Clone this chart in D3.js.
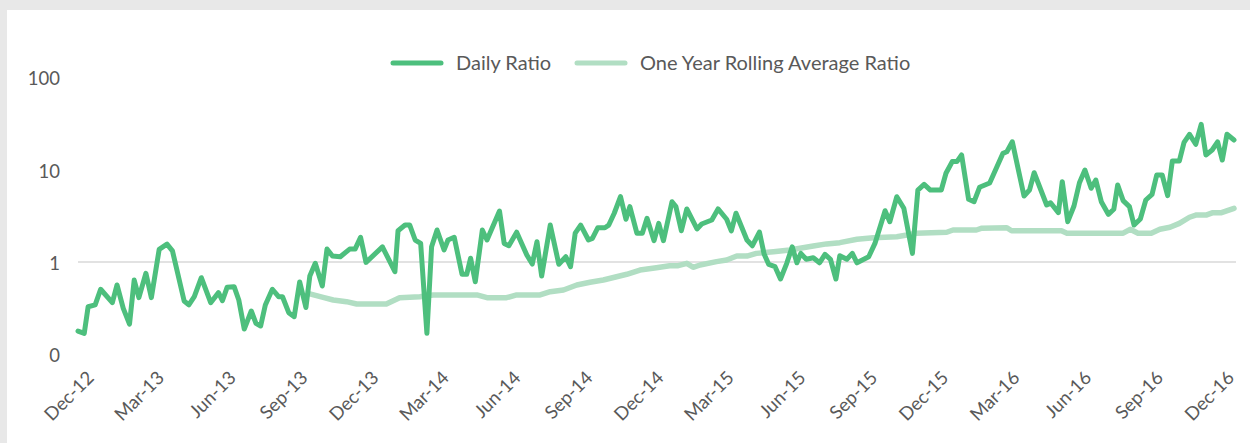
<!DOCTYPE html>
<html>
<head>
<meta charset="utf-8">
<script src="https://cdn.jsdelivr.net/npm/d3@7"></script>
<style>
  body { margin: 0; background: #e8e8e8; }
  svg { display: block; font-family: Lato, "Open Sans", sans-serif; }
  .tick text { fill: #595959; }
</style>
</head>
<body>
<div class="chart"></div>
<script>
var svgWidth = 1250;
var svgHeight = 443;

// series start (first weekly reading)
var startDate = new Date(2012, 10, 15);

// Daily ratio: days after startDate, value
var dailyDays = [0, 8, 13, 22, 29, 44, 50, 58, 66, 72, 78, 87, 94, 104, 114, 121, 136, 142, 149, 158,
  170, 180, 185, 191, 200, 206, 213, 222, 228, 234, 240, 249, 257, 262, 270, 277, 284, 292, 297, 304,
  313, 319, 326, 336, 348, 355, 362, 369, 390, 406, 410, 419, 425, 432, 439, 447, 453, 460, 469, 474,
  482, 492, 498, 503, 509, 518, 524, 540, 546, 552, 562, 575, 582, 588, 594, 605, 616, 625, 631, 637,
  644, 654, 659, 666, 675, 680, 687, 695, 702, 707, 716, 723, 729, 738, 744, 750, 761, 766, 773, 780,
  793, 799, 812, 820, 831, 837, 843, 857, 864, 873, 879, 885, 893, 900, 908, 915, 921, 926, 933, 942,
  950, 957, 964, 971, 976, 985, 992, 998, 1013, 1021, 1034, 1040, 1049, 1058, 1069, 1076, 1084, 1092, 1106, 1112,
  1120, 1126, 1132, 1141, 1148, 1155, 1168, 1185, 1190, 1197, 1212, 1219, 1225, 1241, 1246, 1256, 1261, 1268, 1276, 1283,
  1290, 1298, 1304, 1311, 1320, 1327, 1332, 1339, 1347, 1353, 1361, 1368, 1376, 1382, 1389, 1396, 1402, 1411, 1417, 1424,
  1432, 1439, 1445, 1453, 1460, 1466, 1472, 1481];
var dailyRatio = [0.179, 0.169, 0.328, 0.343, 0.507, 0.363, 0.564, 0.315, 0.213, 0.638, 0.411, 0.755, 0.411, 1.37, 1.56, 1.32, 0.378, 0.343, 0.421, 0.676,
  0.363, 0.466, 0.381, 0.532, 0.541, 0.388, 0.188, 0.295, 0.217, 0.203, 0.343, 0.507, 0.421, 0.421, 0.283, 0.256, 0.608, 0.322, 0.705, 0.968,
  0.55, 1.38, 1.16, 1.14, 1.38, 1.38, 1.85, 0.99, 1.46, 0.785, 2.18, 2.51, 2.51, 1.73, 1.59, 0.169, 1.46, 2.22, 1.35, 1.73,
  1.85, 0.736, 0.736, 1.10, 0.612, 2.22, 1.73, 3.56, 1.59, 1.50, 2.10, 1.19, 0.95, 1.66, 0.705, 2.51, 0.945, 1.14, 0.889, 2.05,
  2.51, 1.73, 1.80, 2.35, 2.35, 2.51, 3.37, 5.09, 2.90, 3.97, 2.05, 2.05, 2.97, 1.70, 2.62, 1.70, 4.49, 3.97, 2.18, 3.75,
  2.28, 2.58, 2.85, 3.75, 2.90, 2.17, 3.37, 1.73, 1.50, 2.11, 1.22, 0.94, 0.89, 0.655, 0.968, 1.46, 0.98, 1.24, 1.07, 1.11,
  0.98, 1.21, 1.07, 0.655, 1.17, 1.07, 1.24, 0.98, 1.14, 1.59, 3.59, 2.73, 5.09, 3.81, 1.24, 6.01, 6.93, 6.01, 6.01, 9.12,
  12.2, 12.2, 14.4, 4.77, 4.49, 6.43, 7.16, 15.0, 15.6, 20.0, 5.18, 6.01, 9.25, 4.14, 4.38, 3.42, 7.40, 2.73, 4.04, 7.21,
  9.9, 6.28, 7.71, 4.49, 3.28, 3.72, 6.81, 4.61, 3.97, 2.51, 2.92, 4.69, 5.40, 8.74, 8.74, 5.22, 12.4, 12.4, 19.7, 24.1,
  18.8, 30.9, 14.4, 16.3, 20.0, 12.7, 24.1, 20.9];

// One year rolling average: days after startDate, value
var rollingDays = [297, 314, 327, 344, 357, 395, 412, 438, 455, 511, 524, 549, 562, 592, 605, 622, 639, 656, 673, 690,
  703, 720, 741, 758, 769, 780, 788, 797, 818, 831, 844, 857, 869, 891, 912, 925, 942, 959, 976, 998,
  1019, 1049, 1062, 1074, 1113, 1121, 1151, 1158, 1190, 1196, 1260, 1267, 1339, 1348, 1358, 1375, 1386, 1399, 1411, 1424,
  1433, 1446, 1454, 1465, 1481];
var rollingRatio = [0.451, 0.415, 0.388, 0.372, 0.351, 0.351, 0.411, 0.421, 0.44, 0.44, 0.411, 0.411, 0.44, 0.44, 0.477, 0.498, 0.564, 0.603, 0.638, 0.693,
  0.736, 0.819, 0.867, 0.912, 0.912, 0.968, 0.877, 0.928, 1.01, 1.05, 1.16, 1.16, 1.24, 1.29, 1.35, 1.41, 1.49, 1.57, 1.62, 1.76,
  1.83, 1.88, 1.96, 2.05, 2.10, 2.22, 2.22, 2.32, 2.35, 2.18, 2.18, 2.05, 2.05, 2.26, 2.05, 2.05, 2.26, 2.38, 2.62, 3.05,
  3.23, 3.23, 3.42, 3.42, 3.81];

var yTicks = [0.1, 1, 10, 100];
var gridValues = [1];
// quarterly x labels, Dec-12 .. Dec-16
var xTickMonths = ["2012-12", "2013-03", "2013-06", "2013-09", "2013-12", "2014-03", "2014-06", "2014-09", "2014-12",
  "2015-03", "2015-06", "2015-09", "2015-12", "2016-03", "2016-06", "2016-09", "2016-12"];
var seriesNames = ["Daily Ratio", "One Year Rolling Average Ratio"];
var seriesColors = ["#4dbf7d", "#b1dec3"];

function dayToDate(n) {
  return d3.timeDay.offset(startDate, n);
}

var daily = dailyDays.map((d, i) => ({ date: dayToDate(d), value: dailyRatio[i] }));
var rolling = rollingDays.map((d, i) => ({ date: dayToDate(d), value: rollingRatio[i] }));
var xTicks = xTickMonths.map(d3.timeParse("%Y-%m"));

var svg = d3.select(".chart")
  .append("svg")
  .attr("width", svgWidth)
  .attr("height", svgHeight);

// white panel
svg.append("rect")
  .attr("x", 7)
  .attr("y", 10)
  .attr("width", svgWidth - 7)
  .attr("height", svgHeight - 10)
  .attr("fill", "#ffffff");

// Scales
var xScale = d3.scaleTime()
  .domain([dayToDate(0), dayToDate(1481)])
  .range([78, 1234]);

var yScale = d3.scaleLog()
  .domain([0.1, 100])
  .range([354.4, 77.2]);

// gridline
svg.append("g").selectAll("line")
  .data(gridValues)
  .enter()
  .append("line")
  .attr("x1", 78)
  .attr("x2", 1236)
  .attr("y1", d => yScale(d))
  .attr("y2", d => yScale(d))
  .attr("stroke", "#d9d9d9")
  .attr("stroke-width", 1.5);

// Y axis (labels only)
var leftAxis = d3.axisLeft(yScale)
  .tickValues(yTicks)
  .tickFormat(d3.format(".0f"))
  .tickSize(0)
  .tickPadding(0);

var yAxisG = svg.append("g")
  .attr("transform", "translate(60, 1.5)")
  .call(leftAxis);
yAxisG.select(".domain").remove();
yAxisG.selectAll("text")
  .style("font-size", "18.5px")
  .style("font-family", "Lato, sans-serif");

// X axis (rotated labels only)
var bottomAxis = d3.axisBottom(xScale)
  .tickValues(xTicks)
  .tickFormat(d3.timeFormat("%b-%y"))
  .tickSize(0)
  .tickPadding(0);

var xAxisG = svg.append("g")
  .attr("transform", "translate(0, 370)")
  .call(bottomAxis);
xAxisG.select(".domain").remove();
xAxisG.selectAll("text")
  .attr("text-anchor", "end")
  .attr("dy", null)
  .attr("y", 0)
  .attr("transform", "translate(4, 9) rotate(-45)")
  .style("font-size", "18.5px")
  .style("font-family", "Lato, sans-serif");

// Lines
var line = d3.line()
  .x(d => xScale(d.date))
  .y(d => yScale(d.value));

svg.append("path")
  .datum(rolling)
  .attr("d", line)
  .attr("fill", "none")
  .attr("stroke", seriesColors[1])
  .attr("stroke-width", 5.5)
  .attr("stroke-linejoin", "round")
  .attr("stroke-linecap", "round");

svg.append("path")
  .datum(daily)
  .attr("d", line)
  .attr("fill", "none")
  .attr("stroke", seriesColors[0])
  .attr("stroke-width", 5)
  .attr("stroke-linejoin", "round")
  .attr("stroke-linecap", "round");

// Legend
var legendX = [393, 577];
var legend = svg.append("g").selectAll("g")
  .data(seriesNames)
  .enter()
  .append("g")
  .attr("transform", (d, i) => `translate(${legendX[i]}, 63)`);

legend.append("line")
  .attr("x1", 0)
  .attr("x2", 48)
  .attr("stroke", (d, i) => seriesColors[i])
  .attr("stroke-width", 5)
  .attr("stroke-linecap", "round");

legend.append("text")
  .attr("x", 63)
  .attr("y", 7)
  .attr("fill", "#595959")
  .style("font-size", "20px")
  .text(d => d);
</script>
</body>
</html>
